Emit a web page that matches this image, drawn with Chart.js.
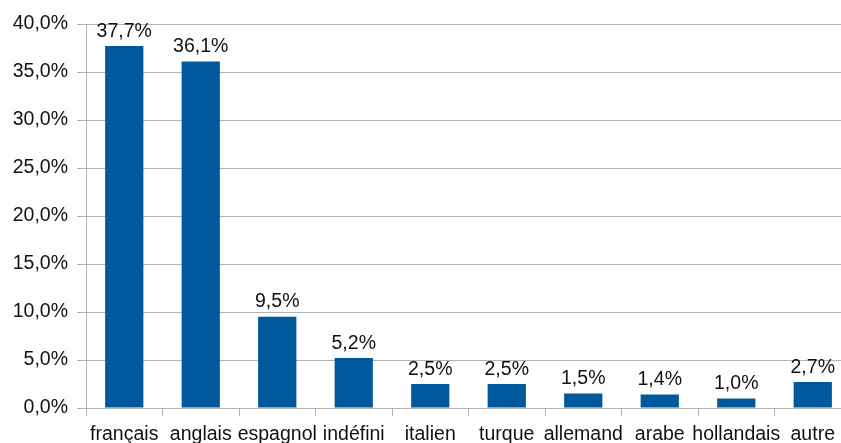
<!DOCTYPE html>
<html>
<head>
<meta charset="utf-8">
<script src="https://cdn.jsdelivr.net/npm/chart.js@4"></script>
<style>
    html, body { margin: 0; padding: 0; overflow: hidden; background: #fff; }
    #wrap { width: 851px; height: 450px; }
</style>
</head>
<body>
<div id="wrap"><canvas id="langChart"></canvas></div>
<script>
const languages = ["français", "anglais", "espagnol", "indéfini", "italien", "turque", "allemand", "arabe", "hollandais", "autre"];
const shares = [37.7, 36.1, 9.5, 5.2, 2.5, 2.5, 1.5, 1.4, 1.0, 2.7];
const yMax = 40;
const yStep = 5;

const fmt = v => v.toFixed(1).replace(".", ",") + "%";
const fontFamily = "'Liberation Sans', Arial, sans-serif";

const valueLabels = {
    id: "valueLabels",
    afterDatasetsDraw(chart) {
        const ctx = chart.ctx;
        const meta = chart.getDatasetMeta(0);
        ctx.save();
        ctx.font = "19.5px " + fontFamily;
        ctx.fillStyle = "#111";
        ctx.textAlign = "center";
        ctx.textBaseline = "bottom";
        meta.data.forEach((bar, i) => {
            ctx.fillText(fmt(shares[i]), bar.x, bar.y - 5);
        });
        ctx.restore();
    }
};

new Chart(document.getElementById("langChart"), {
    type: "bar",
    data: {
        labels: languages,
        datasets: [{
            data: shares,
            backgroundColor: "#00599c",
            borderWidth: 0,
            barPercentage: 0.5,
            categoryPercentage: 1.0
        }]
    },
    options: {
        responsive: true,
        maintainAspectRatio: false,
        animation: false,
        layout: { padding: { top: 24, left: 0, right: 0, bottom: 0 } },
        plugins: {
            legend: { display: false },
            tooltip: { enabled: false }
        },
        scales: {
            x: {
                offset: true,
                grid: {
                    offset: true,
                    drawOnChartArea: false,
                    color: "#b3b3b3",
                    tickLength: 8
                },
                border: { color: "#b3b3b3" },
                ticks: {
                    color: "#111",
                    font: { size: 19.5, family: fontFamily },
                    padding: 7,
                    maxRotation: 0,
                    autoSkip: false
                },
                afterFit: scale => { scale.height = 42; }
            },
            y: {
                min: 0,
                max: yMax,
                grid: {
                    color: "#b3b3b3",
                    tickLength: 9
                },
                border: { color: "#b3b3b3" },
                ticks: {
                    stepSize: yStep,
                    color: "#111",
                    font: { size: 19.5, family: fontFamily },
                    padding: 9,
                    callback: v => fmt(v)
                },
                afterFit: scale => { scale.width = 86; }
            }
        }
    },
    plugins: [valueLabels]
});
</script>
</body>
</html>
